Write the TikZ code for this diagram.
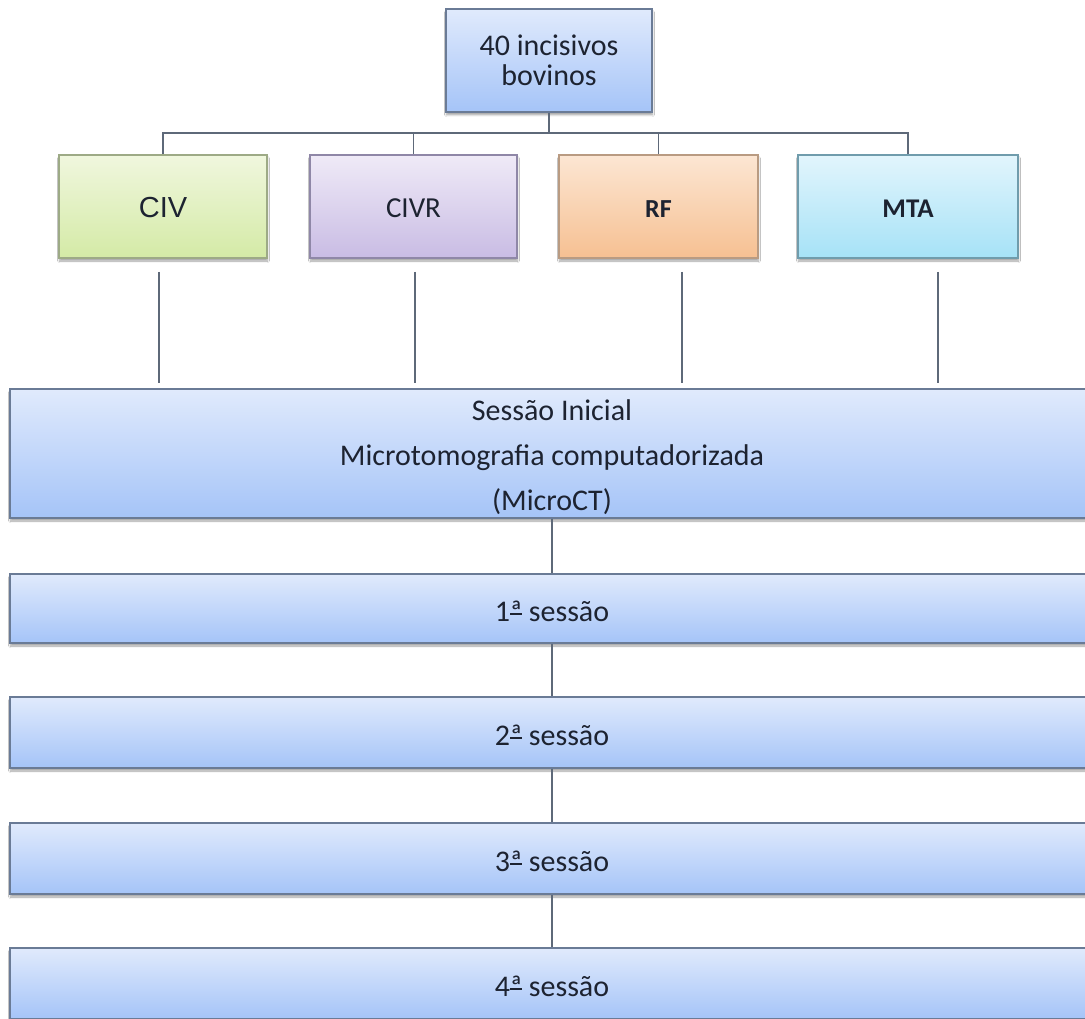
\documentclass[tikz,border=0pt]{standalone}
\usepackage{fontspec}
\setmainfont{Carlito}
\newfontfamily\arialf{Liberation Sans}
\usetikzlibrary{shadows.blur}
\definecolor{bluetop}{HTML}{E0EAFC}
\definecolor{bluebot}{HTML}{A5C4F8}
\definecolor{bordb}{HTML}{6A7B96}
\definecolor{greentop}{HTML}{F0F7DE}
\definecolor{greenbot}{HTML}{D4EAA6}
\definecolor{bordg}{HTML}{9DAA86}
\definecolor{purptop}{HTML}{EFEAF7}
\definecolor{purpbot}{HTML}{C9BCE4}
\definecolor{bordp}{HTML}{8F87A7}
\definecolor{orgtop}{HTML}{FCE6D3}
\definecolor{orgbot}{HTML}{F6C092}
\definecolor{bordo}{HTML}{B99B82}
\definecolor{cyantop}{HTML}{E2F5FC}
\definecolor{cyanbot}{HTML}{A6E2F7}
\definecolor{bordc}{HTML}{709CAC}
\definecolor{linec}{HTML}{5E6979}
\definecolor{textc}{HTML}{1D2331}
% feminine ordinal: real glyph, underlined as in Calibri
\newcommand\ordfem{\setbox0\hbox{ª}\rlap{\raisebox{7pt}{\rule{\wd0}{1.4pt}}}\box0}
\begin{document}
\begin{tikzpicture}[x=1pt,y=-1pt,
  boxbase/.style={draw, line width=1.5pt, rectangle, inner sep=0pt, text=textc,
    blur shadow={shadow xshift=0.5pt, shadow yshift=-3pt, shadow blur steps=5, shadow opacity=35}},
  bluebox/.style={boxbase, draw=bordb, top color=bluetop, bottom color=bluebot},
  greenbox/.style={boxbase, draw=bordg, top color=greentop, bottom color=greenbot},
  purpbox/.style={boxbase, draw=bordp, top color=purptop, bottom color=purpbot},
  orgbox/.style={boxbase, draw=bordo, top color=orgtop, bottom color=orgbot},
  cyanbox/.style={boxbase, draw=bordc, top color=cyantop, bottom color=cyanbot},
  grp/.style={minimum height=103pt, text height=23pt, text depth=0pt},
  sess/.style={bluebox, minimum width=1084pt, text height=26pt, text depth=0pt,
    font=\fontsize{30}{36}\selectfont},
  conn/.style={draw=linec, line width=1.6pt}
]
\useasboundingbox (0,0) rectangle (1085,1019);
\clip (0,0) rectangle (1085,1019);
\fill[white] (0,0) rectangle (1085,1019);

% top box
\node[bluebox, minimum width=206pt, minimum height=103pt, align=center,
  font=\fontsize{30}{30}\selectfont] (top) at (549,60.5) {40 incisivos\\bovinos};

% groups
\node[greenbox, grp, minimum width=208pt, font=\arialf\fontsize{29}{33}\selectfont] (civ) at (163,206.5) {CIV};
\node[purpbox, grp, minimum width=207pt, font=\fontsize{29}{33}\selectfont] (civr) at (413.5,206.5) {CIVR};
\node[orgbox, grp, minimum width=199pt, font=\bfseries\fontsize{26}{33}\selectfont] (rf) at (658.5,206.5) {RF};
\node[cyanbox, grp, minimum width=220pt, font=\bfseries\fontsize{27}{33}\selectfont] (mta) at (908,206.5) {MTA};

\coordinate (bus) at (549,133);
\draw[conn] (top.south) -- (top.south |- bus);
\draw[conn] (civ.north) -- (civ.north |- bus) -- (mta.north |- bus) -- (mta.north);
\draw[conn] (civr.north) -- (civr.north |- bus);
\draw[conn] (rf.north) -- (rf.north |- bus);

% free vertical lines
\coordinate (v1a) at (159,272); \coordinate (v1b) at (159,383);
\coordinate (v2a) at (415,272); \coordinate (v2b) at (415,383);
\coordinate (v3a) at (682,272); \coordinate (v3b) at (682,383);
\coordinate (v4a) at (938,272); \coordinate (v4b) at (938,383);
\draw[conn] (v1a) -- (v1b);
\draw[conn] (v2a) -- (v2b);
\draw[conn] (v3a) -- (v3b);
\draw[conn] (v4a) -- (v4b);

% initial session
\node[bluebox, minimum width=1084pt, minimum height=129pt, align=center,
  font=\fontsize{30}{45.3}\selectfont] (init) at (552,453.5)
  {\rule{0pt}{28.5pt}Sessão Inicial\\Microtomografia computadorizada\\(MicroCT)};

% sessions
\node[sess, minimum height=69pt] (s1) at (552,608.5) {1\ordfem\ sessão};
\node[sess, minimum height=71pt] (s2) at (552,732.5) {2\ordfem\ sessão};
\node[sess, minimum height=71pt] (s3) at (552,858.5) {3\ordfem\ sessão};
\node[sess, minimum height=71pt] (s4) at (552,983.5) {4\ordfem\ sessão};

\draw[conn] (init.south) -- (s1.north);
\draw[conn] (s1.south) -- (s2.north);
\draw[conn] (s2.south) -- (s3.north);
\draw[conn] (s3.south) -- (s4.north);
\end{tikzpicture}
\end{document}
